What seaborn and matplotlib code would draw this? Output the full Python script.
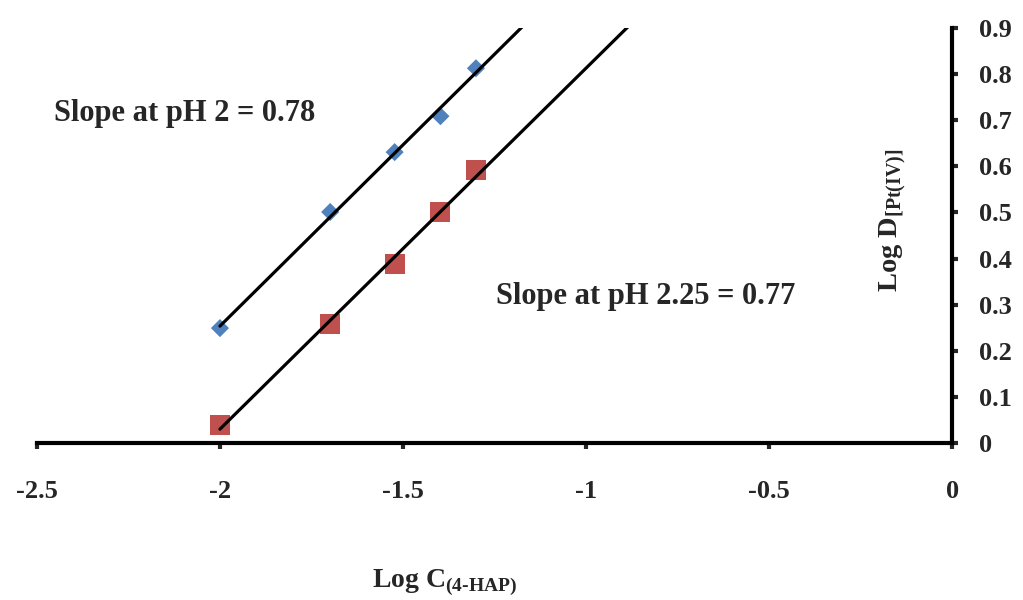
import numpy as np
import pandas as pd
import matplotlib
matplotlib.use("Agg")
import matplotlib.pyplot as plt
import seaborn as sns

sns.set_style("white")
plt.rcParams['font.family'] = ['Liberation Serif', 'DejaVu Serif']
plt.rcParams['font.weight'] = 'bold'
plt.rcParams['mathtext.fontset'] = 'custom'
plt.rcParams['mathtext.rm'] = 'Liberation Serif:bold'
plt.rcParams['mathtext.bf'] = 'Liberation Serif:bold'

# data
log_c = [-2.0, -1.699, -1.523, -1.398, -1.301]
log_d_ph2 = [0.249, 0.501, 0.631, 0.709, 0.813]
log_d_ph225 = [0.039, 0.258, 0.388, 0.501, 0.592]
x_ticks = [-2.5, -2, -1.5, -1, -0.5, 0]
x_tick_labels = ['-2.5', '-2', '-1.5', '-1', '-0.5', '0']
y_ticks = [0, 0.1, 0.2, 0.3, 0.4, 0.5, 0.6, 0.7, 0.8, 0.9]
y_tick_labels = ['0', '0.1', '0.2', '0.3', '0.4', '0.5', '0.6', '0.7', '0.8', '0.9']

df = pd.DataFrame({'x': log_c, 'ph2': log_d_ph2, 'ph225': log_d_ph225})

fig = plt.figure(figsize=(10.23, 6), dpi=100)
ax = fig.add_axes([0.036, 0.262, 0.895, 0.691])

# trend lines (extended forward)
xx = np.array([-2.0, -0.5])
for col in ['ph2', 'ph225']:
    k, b = np.polyfit(df['x'], df[col], 1)
    ax.plot(xx, k * xx + b, color='black', lw=2.3, zorder=3)

sns.scatterplot(data=df, x='x', y='ph2', marker='D', s=85, color='#4F81BD',
                edgecolor='none', ax=ax, zorder=2)
sns.scatterplot(data=df, x='x', y='ph225', marker='s', s=205, color='#C0504D',
                edgecolor='none', ax=ax, zorder=2)

ax.set_xlim(-2.5, 0)
ax.set_ylim(0, 0.9)
ax.set_xticks(x_ticks)
ax.set_xticklabels(x_tick_labels)
ax.set_yticks(y_ticks)
ax.set_yticklabels(y_tick_labels)

for s in ['top', 'left']:
    ax.spines[s].set_visible(False)
for s in ['bottom', 'right']:
    ax.spines[s].set_linewidth(3)
    ax.spines[s].set_color('black')

ax.yaxis.tick_right()
ax.tick_params(axis='x', direction='out', length=4, width=3, labelsize=19, pad=23, bottom=True)
ax.tick_params(axis='y', direction='out', length=4, width=3, labelsize=19, pad=15, right=True, left=False)

ax.set_xlabel(r'Log C$_{\mathrm{(4\text{-}HAP)}}$', fontsize=20, fontweight='bold')
ax.xaxis.set_label_coords(0.445, -0.3)
ax.set_ylabel('')
ax.text(0.935, 0.537, r'Log D$_{\mathrm{[Pt(IV)]}}$', transform=ax.transAxes,
        rotation=90, ha='center', va='center', fontsize=20.5, fontweight='bold')

ax.text(-2.453, 0.714, 'Slope at pH 2 = 0.78', fontsize=22, fontweight='bold', va='center')
ax.text(-1.245, 0.318, 'Slope at pH 2.25 = 0.77', fontsize=22, fontweight='bold', va='center')

ax.grid(False)
fig.savefig('out.png', dpi=100)
